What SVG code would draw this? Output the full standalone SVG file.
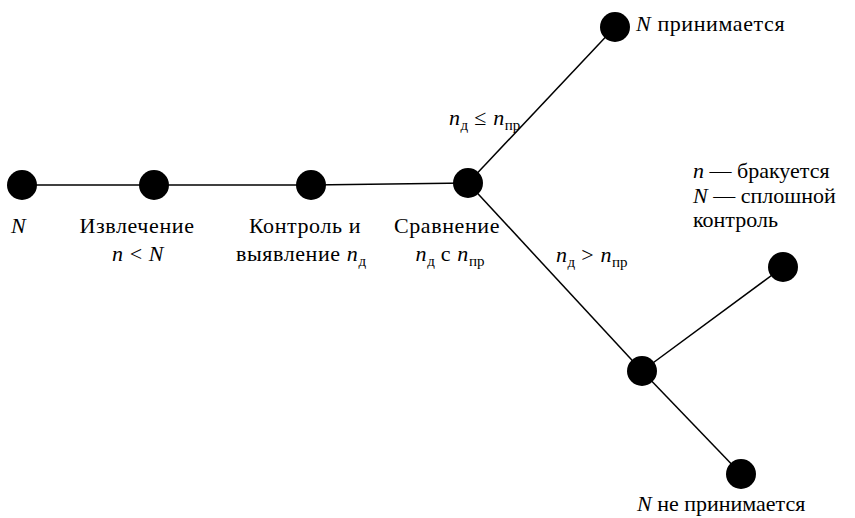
<svg xmlns="http://www.w3.org/2000/svg" width="855" height="518" viewBox="0 0 855 518">
<style>
text{font-family:'Liberation Serif','DejaVu Serif',serif;font-size:22px;letter-spacing:0.6px;fill:#000}
.i{font-style:italic}
.s{font-size:15px;letter-spacing:0}
.m{text-anchor:middle}
.t{letter-spacing:0}
.e line{stroke:#000;stroke-width:1.5}
.n circle{fill:#000}
</style>
<rect width="855" height="518" fill="#fff"/>
<g id="connectors" class="e">
<line x1="22" y1="185" x2="154" y2="185"/>
<line x1="154" y1="185" x2="311" y2="185"/>
<line x1="311" y1="185" x2="468" y2="183"/>
<line x1="468" y1="183" x2="615" y2="27"/>
<line x1="468" y1="183" x2="642" y2="371"/>
<line x1="642" y1="371" x2="783" y2="267"/>
<line x1="642" y1="371" x2="741" y2="474"/>
</g>
<g id="n1" class="n"><circle cx="22" cy="185" r="15"/><text x="11" y="233" class="i">N</text></g>
<g id="n2" class="n"><circle cx="154" cy="185" r="15"/><text x="137" y="233" class="m">Извлечение</text><text x="138" y="261" class="m"><tspan class="i">n</tspan> &lt; <tspan class="i">N</tspan></text></g>
<g id="n3" class="n"><circle cx="311" cy="185" r="15"/><text x="305" y="233" class="m">Контроль и</text><text x="301" y="261" class="m">выявление <tspan class="i">n</tspan><tspan class="s" dy="5">д</tspan></text></g>
<g id="n4" class="n"><circle cx="468" cy="183" r="15"/><text x="447" y="233" class="m">Сравнение</text><text x="450" y="261" class="m"><tspan class="i">n</tspan><tspan class="s" dy="5">д</tspan><tspan dy="-5">  с </tspan><tspan class="i">n</tspan><tspan class="s" dy="5">пр</tspan></text></g>
<g id="n5" class="n"><circle cx="615" cy="27" r="15"/><text x="636" y="31"><tspan class="i">N</tspan> принимается</text></g>
<g id="n6" class="n"><circle cx="642" cy="371" r="15"/></g>
<g id="n7" class="n"><circle cx="783" cy="267" r="15"/><text x="693" y="178" class="t"><tspan class="i">n</tspan> — бракуется</text><text x="693" y="203" class="t"><tspan class="i">N</tspan> — сплошной</text><text x="693" y="227" class="t">контроль</text></g>
<g id="n8" class="n"><circle cx="741" cy="474" r="15"/><text x="637" y="511" class="t"><tspan class="i">N</tspan> не принимается</text></g>
<g id="labels">
<text x="449" y="125"><tspan class="i">n</tspan><tspan class="s" dy="5">д</tspan><tspan dy="-5"> ≤ </tspan><tspan class="i">n</tspan><tspan class="s" dy="5">пр</tspan></text>
<text x="556" y="262"><tspan class="i">n</tspan><tspan class="s" dy="5">д</tspan><tspan dy="-5">  &gt; </tspan><tspan class="i">n</tspan><tspan class="s" dy="5">пр</tspan></text>
</g>
</svg>
